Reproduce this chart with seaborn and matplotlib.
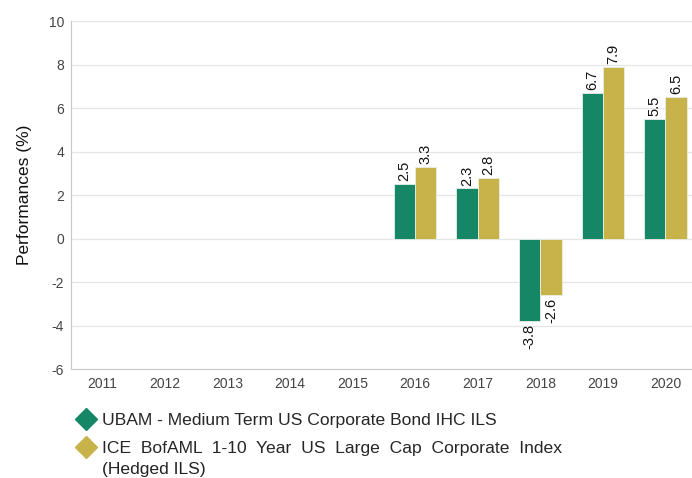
import numpy as np
import pandas as pd
import matplotlib
matplotlib.use("Agg")
import matplotlib.pyplot as plt
from matplotlib.lines import Line2D
import seaborn as sns

years = ["2011", "2012", "2013", "2014", "2015", "2016", "2017", "2018", "2019", "2020"]
fund = [np.nan, np.nan, np.nan, np.nan, np.nan, 2.5, 2.3, -3.8, 6.7, 5.5]
index = [np.nan, np.nan, np.nan, np.nan, np.nan, 3.3, 2.8, -2.6, 7.9, 6.5]
fund_name = "UBAM - Medium Term US Corporate Bond IHC ILS"
index_name = "ICE BofAML 1-10 Year US Large Cap Corporate Index\n(Hedged ILS)"
colors = ["#168766", "#c7b34a"]

df = pd.DataFrame({
    "year": years * 2,
    "value": fund + index,
    "series": [fund_name] * len(years) + [index_name] * len(years),
})

sns.set_style("white")
plt.rcParams["font.family"] = ["Liberation Sans", "DejaVu Sans"]
plt.rcParams["axes.unicode_minus"] = False

fig = plt.figure(figsize=(6.92, 4.78), dpi=100)
ax = fig.add_axes([0.1026, 0.228, 0.8974, 0.728])

sns.barplot(data=df, x="year", y="value", hue="series", order=years,
            hue_order=[fund_name, index_name], palette=colors, saturation=1,
            width=0.68, edgecolor="#e8efe8", linewidth=0.6, legend=False, ax=ax)

for cont in ax.containers:
    ax.bar_label(cont, fmt="%.1f", rotation=90, padding=2, fontsize=10.5, color="#111111")

ax.set_ylim(-6, 10)
ax.set_yticks(range(-6, 11, 2))
ax.set_xlim(-0.5, 9.425)
ax.grid(axis="y", color="#e6e6e6", linewidth=0.9)
ax.set_axisbelow(True)
for s in ["top", "right"]:
    ax.spines[s].set_visible(False)
for s in ["left", "bottom"]:
    ax.spines[s].set_color("#c8c8c8")
ax.tick_params(axis="both", labelsize=10, colors="#444444", length=0, pad=6)
ax.tick_params(axis="y", pad=5)
ax.set_xlabel("")
ax.set_ylabel("Performances (%)", fontsize=12.5, color="#111111", labelpad=12)

# legend: the wrapped second line is placed as plain text below, so the
# diamond lines up with the first line like in the original
index_first, index_rest = index_name.split("\n")
legend_labels = [fund_name, index_first.replace(" ", "  ")]
handles = [Line2D([], [], marker="D", linestyle="", markersize=11, color=c) for c in colors]
leg = fig.legend(handles, legend_labels, loc="upper left",
                 bbox_to_anchor=(0.1, 0.155), frameon=False, fontsize=12.6,
                 handlelength=0.9, handletextpad=0.5, labelspacing=0.72, borderpad=0)
fig.canvas.draw()
bb = leg.get_texts()[1].get_window_extent().transformed(fig.transFigure.inverted())
fig.text(bb.x0, bb.y0 - 21 / 478, index_rest, fontsize=12.6, color="#222222", va="bottom")

fig.savefig("out.png", dpi=100)
